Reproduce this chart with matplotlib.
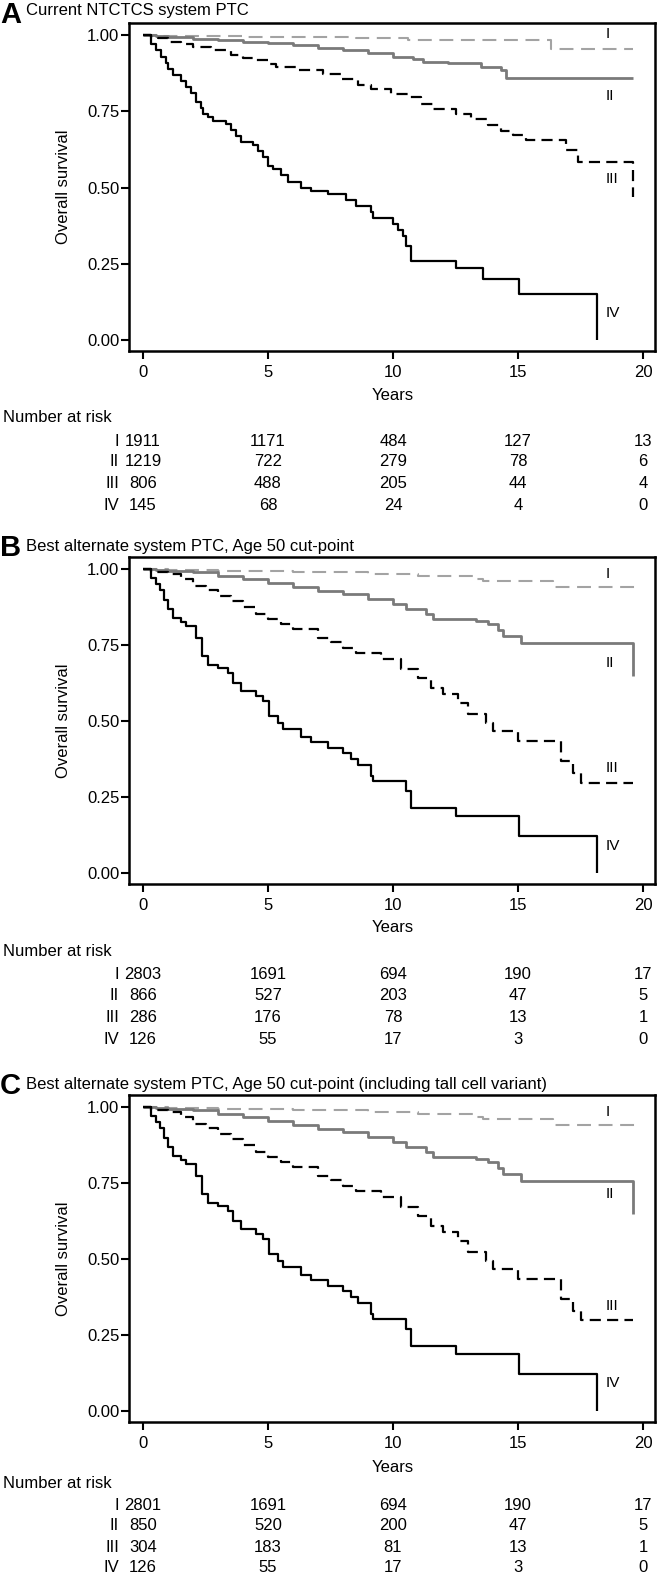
import matplotlib
matplotlib.use("Agg")
import matplotlib.pyplot as plt
from matplotlib.transforms import blended_transform_factory

# ---- donnees ----
groups = ["I", "II", "III", "IV"]
risk_years = [0, 5, 10, 15, 20]

titles = ["Current NTCTCS system PTC",
          "Best alternate system PTC, Age 50 cut-point",
          "Best alternate system PTC, Age 50 cut-point (including tall cell variant)"]
letters = ["A", "B", "C"]

# Panel A
A_I_t = [0, 0.8, 2.0, 4.0, 6.5, 8.5, 10.6, 16.3, 19.6]
A_I_s = [1.0, 0.998, 0.996, 0.995, 0.993, 0.99, 0.985, 0.956, 0.956]
A_II_t = [0, 0.5, 1.0, 2.0, 3.0, 4.0, 5.0, 6.0, 7.0, 8.0, 9.0, 10.0, 10.8, 11.2,
          12.2, 13.5, 14.3, 14.5, 19.6]
A_II_s = [1.0, 0.998, 0.994, 0.989, 0.984, 0.979, 0.974, 0.968, 0.958, 0.951, 0.941,
          0.93, 0.923, 0.913, 0.908, 0.896, 0.885, 0.861, 0.861]
A_III_t = [0, 0.3, 0.6, 1.0, 1.5, 2.0, 2.7, 3.5, 4.0, 4.4, 5.0, 5.3, 6.1, 7.2, 7.9,
           8.6, 9.1, 9.9, 10.6, 11.1, 11.6, 12.5, 13.1, 13.8, 14.3, 14.8, 15.3, 16.9,
           17.4, 19.6]
A_III_s = [1.0, 0.995, 0.99, 0.978, 0.97, 0.96, 0.95, 0.935, 0.925, 0.918, 0.905,
           0.896, 0.885, 0.874, 0.857, 0.836, 0.825, 0.808, 0.797, 0.775, 0.759, 0.742,
           0.726, 0.704, 0.687, 0.671, 0.655, 0.622, 0.585, 0.47]
A_IV_t = [0, 0.3, 0.5, 0.7, 0.9, 1.0, 1.2, 1.5, 1.7, 1.9, 2.1, 2.3, 2.4, 2.6, 2.8,
          3.3, 3.5, 3.7, 3.9, 4.4, 4.6, 4.8, 5.0, 5.2, 5.5, 5.8, 6.3, 6.7, 7.4, 8.1,
          8.5, 9.1, 9.2, 10.0, 10.2, 10.4, 10.5, 10.7, 12.5, 13.6, 15.05, 18.15]
A_IV_s = [1.0, 0.97, 0.95, 0.93, 0.91, 0.89, 0.87, 0.85, 0.83, 0.81, 0.78, 0.76,
          0.74, 0.73, 0.72, 0.71, 0.69, 0.67, 0.65, 0.64, 0.62, 0.6, 0.57, 0.56, 0.54,
          0.52, 0.5, 0.49, 0.48, 0.46, 0.44, 0.42, 0.4, 0.38, 0.36, 0.34, 0.31, 0.26,
          0.235, 0.2, 0.15, 0.0]

# Panel B
B_I_t = [0, 1.0, 3.0, 6.0, 9.0, 11.0, 13.2, 13.6, 16.4, 19.9]
B_I_s = [1.0, 0.998, 0.995, 0.99, 0.985, 0.977, 0.968, 0.962, 0.94, 0.94]
B_II_t = [0, 0.5, 1.0, 2.0, 3.0, 4.0, 5.0, 6.0, 7.0, 8.0, 9.0, 10.0, 10.5, 11.3,
          11.6, 13.3, 13.8, 14.2, 14.4, 15.1, 19.6]
B_II_s = [1.0, 0.997, 0.994, 0.989, 0.978, 0.969, 0.956, 0.94, 0.929, 0.918, 0.901,
          0.885, 0.868, 0.852, 0.837, 0.83, 0.819, 0.8, 0.78, 0.758, 0.648]
B_III_t = [0, 0.3, 1.0, 1.5, 2.0, 2.5, 3.0, 3.5, 4.0, 4.5, 5.0, 5.5, 6.0, 7.0, 7.5,
           8.0, 8.5, 9.5, 10.3, 11.0, 11.5, 12.0, 12.6, 13.0, 13.7, 14.0, 15.0, 16.7,
           17.2, 17.5, 19.6]
B_III_s = [1.0, 0.99, 0.985, 0.967, 0.945, 0.93, 0.912, 0.895, 0.874, 0.852, 0.835,
           0.82, 0.802, 0.775, 0.76, 0.742, 0.725, 0.703, 0.67, 0.643, 0.61, 0.588,
           0.56, 0.522, 0.495, 0.467, 0.434, 0.368, 0.33, 0.297, 0.297]
B_IV_t = [0, 0.3, 0.5, 0.67, 0.85, 1.0, 1.2, 1.5, 1.7, 2.1, 2.36, 2.6, 3.0, 3.4, 3.6,
          3.9, 4.5, 4.8, 5.05, 5.4, 5.6, 6.3, 6.7, 7.4, 8.0, 8.3, 8.6, 9.1, 9.2, 10.5,
          10.7, 12.5, 15.05, 18.15]
B_IV_s = [1.0, 0.97, 0.95, 0.93, 0.9, 0.868, 0.84, 0.825, 0.813, 0.775, 0.714, 0.686,
          0.676, 0.659, 0.626, 0.599, 0.582, 0.566, 0.516, 0.495, 0.473, 0.448, 0.43,
          0.412, 0.396, 0.374, 0.357, 0.319, 0.302, 0.27, 0.214, 0.187, 0.121, 0.0]

# Panel C (courbes identiques a B a l'oeil)
C_I_t, C_I_s = B_I_t, B_I_s
C_II_t, C_II_s = B_II_t, B_II_s
C_III_t = B_III_t
C_III_s = B_III_s[:-2] + [0.30, 0.30]
C_IV_t, C_IV_s = B_IV_t, B_IV_s

# position verticale des etiquettes I..IV
A_lab_y = [1.005, 0.80, 0.528, 0.09]
B_lab_y = [0.983, 0.692, 0.346, 0.088]
C_lab_y = [0.983, 0.714, 0.346, 0.093]

# effectifs a risque
A_risk = [[1911, 1171, 484, 127, 13],
          [1219, 722, 279, 78, 6],
          [806, 488, 205, 44, 4],
          [145, 68, 24, 4, 0]]
B_risk = [[2803, 1691, 694, 190, 17],
          [866, 527, 203, 47, 5],
          [286, 176, 78, 13, 1],
          [126, 55, 17, 3, 0]]
C_risk = [[2801, 1691, 694, 190, 17],
          [850, 520, 200, 47, 5],
          [304, 183, 81, 13, 1],
          [126, 55, 17, 3, 0]]

# ---- mise en page (pixels) ----
W, H = 660, 1588
plt.rcParams["font.family"] = ["Liberation Sans", "DejaVu Sans"]
plt.rcParams["lines.scale_dashes"] = False


def fx(px):
    return px / W


def fy(py):
    return 1 - py / H


styles = [
    dict(color="#a3a3a3", lw=1.5, dashes=(10, 5.5)),
    dict(color="#7a7a7a", lw=2.0),
    dict(color="black", lw=1.6, dashes=(8, 4.5)),
    dict(color="black", lw=1.6),
]

# haut/bas du cadre, y titre, y lettre, y Years, y Number at risk, y lignes
layout = [
    (23, 351, 11, 15, 395, 418, [441, 462, 484, 506]),
    (557, 884, 546, 548, 928, 951, [975, 996, 1018, 1039]),
    (1095, 1422, 1085, 1086, 1467, 1484, [1505, 1526, 1547, 1568]),
]

curves = [
    [(A_I_t, A_I_s), (A_II_t, A_II_s), (A_III_t, A_III_s), (A_IV_t, A_IV_s)],
    [(B_I_t, B_I_s), (B_II_t, B_II_s), (B_III_t, B_III_s), (B_IV_t, B_IV_s)],
    [(C_I_t, C_I_s), (C_II_t, C_II_s), (C_III_t, C_III_s), (C_IV_t, C_IV_s)],
]
lab_ys = [A_lab_y, B_lab_y, C_lab_y]
risks = [A_risk, B_risk, C_risk]

fig = plt.figure(figsize=(W / 100, H / 100), dpi=100)
left, right = 129, 655

for k in range(3):
    top, bot, y_tit, y_let, y_years, y_nar, y_rows = layout[k]
    ax = fig.add_axes([fx(left), fy(bot), fx(right - left), (bot - top) / H])

    for (t, s), st in zip(curves[k], styles):
        ax.step(t, s, where="post", solid_capstyle="butt", dash_capstyle="butt", **st)

    for g, yl in zip(groups, lab_ys[k]):
        ax.text(18.5, yl, g, fontsize=11, ha="left", va="center")

    ax.set_xlim(-0.56, 20.48)
    ax.set_ylim(-0.036, 1.04)
    ax.set_xticks(risk_years)
    ax.set_yticks([0, 0.25, 0.5, 0.75, 1.0])
    ax.set_yticklabels(["0.00", "0.25", "0.50", "0.75", "1.00"])
    for sp in ax.spines.values():
        sp.set_linewidth(1.8)
    ax.tick_params(axis="both", labelsize=12, width=1.5, length=6, direction="out")
    ax.tick_params(axis="y", pad=1)
    ax.tick_params(axis="x", pad=4)

    fig.text(fx(63), fy((top + bot) / 2), "Overall survival", rotation=90,
             fontsize=12, ha="center", va="center")
    fig.text(0.0, fy(y_let), letters[k], fontsize=21, fontweight="bold",
             ha="left", va="center")
    fig.text(fx(26), fy(y_tit), titles[k], fontsize=12, ha="left", va="center")

    # tableau des effectifs
    tr = blended_transform_factory(ax.transData, fig.transFigure)
    fig.text(fx(143 + 10 * 25), fy(y_years), "Years", fontsize=12,
             ha="center", va="center")
    fig.text(fx(3), fy(y_nar), "Number at risk", fontsize=12, ha="left", va="center")
    for g, row, yr in zip(groups, risks[k], y_rows):
        fig.text(fx(119), fy(yr), g, fontsize=12, ha="right", va="center")
        for x, n in zip(risk_years, row):
            ax.text(x, fy(yr), str(n), transform=tr, fontsize=12,
                    ha="center", va="center", clip_on=False)

fig.savefig("out.png", dpi=100)
plt.close(fig)
